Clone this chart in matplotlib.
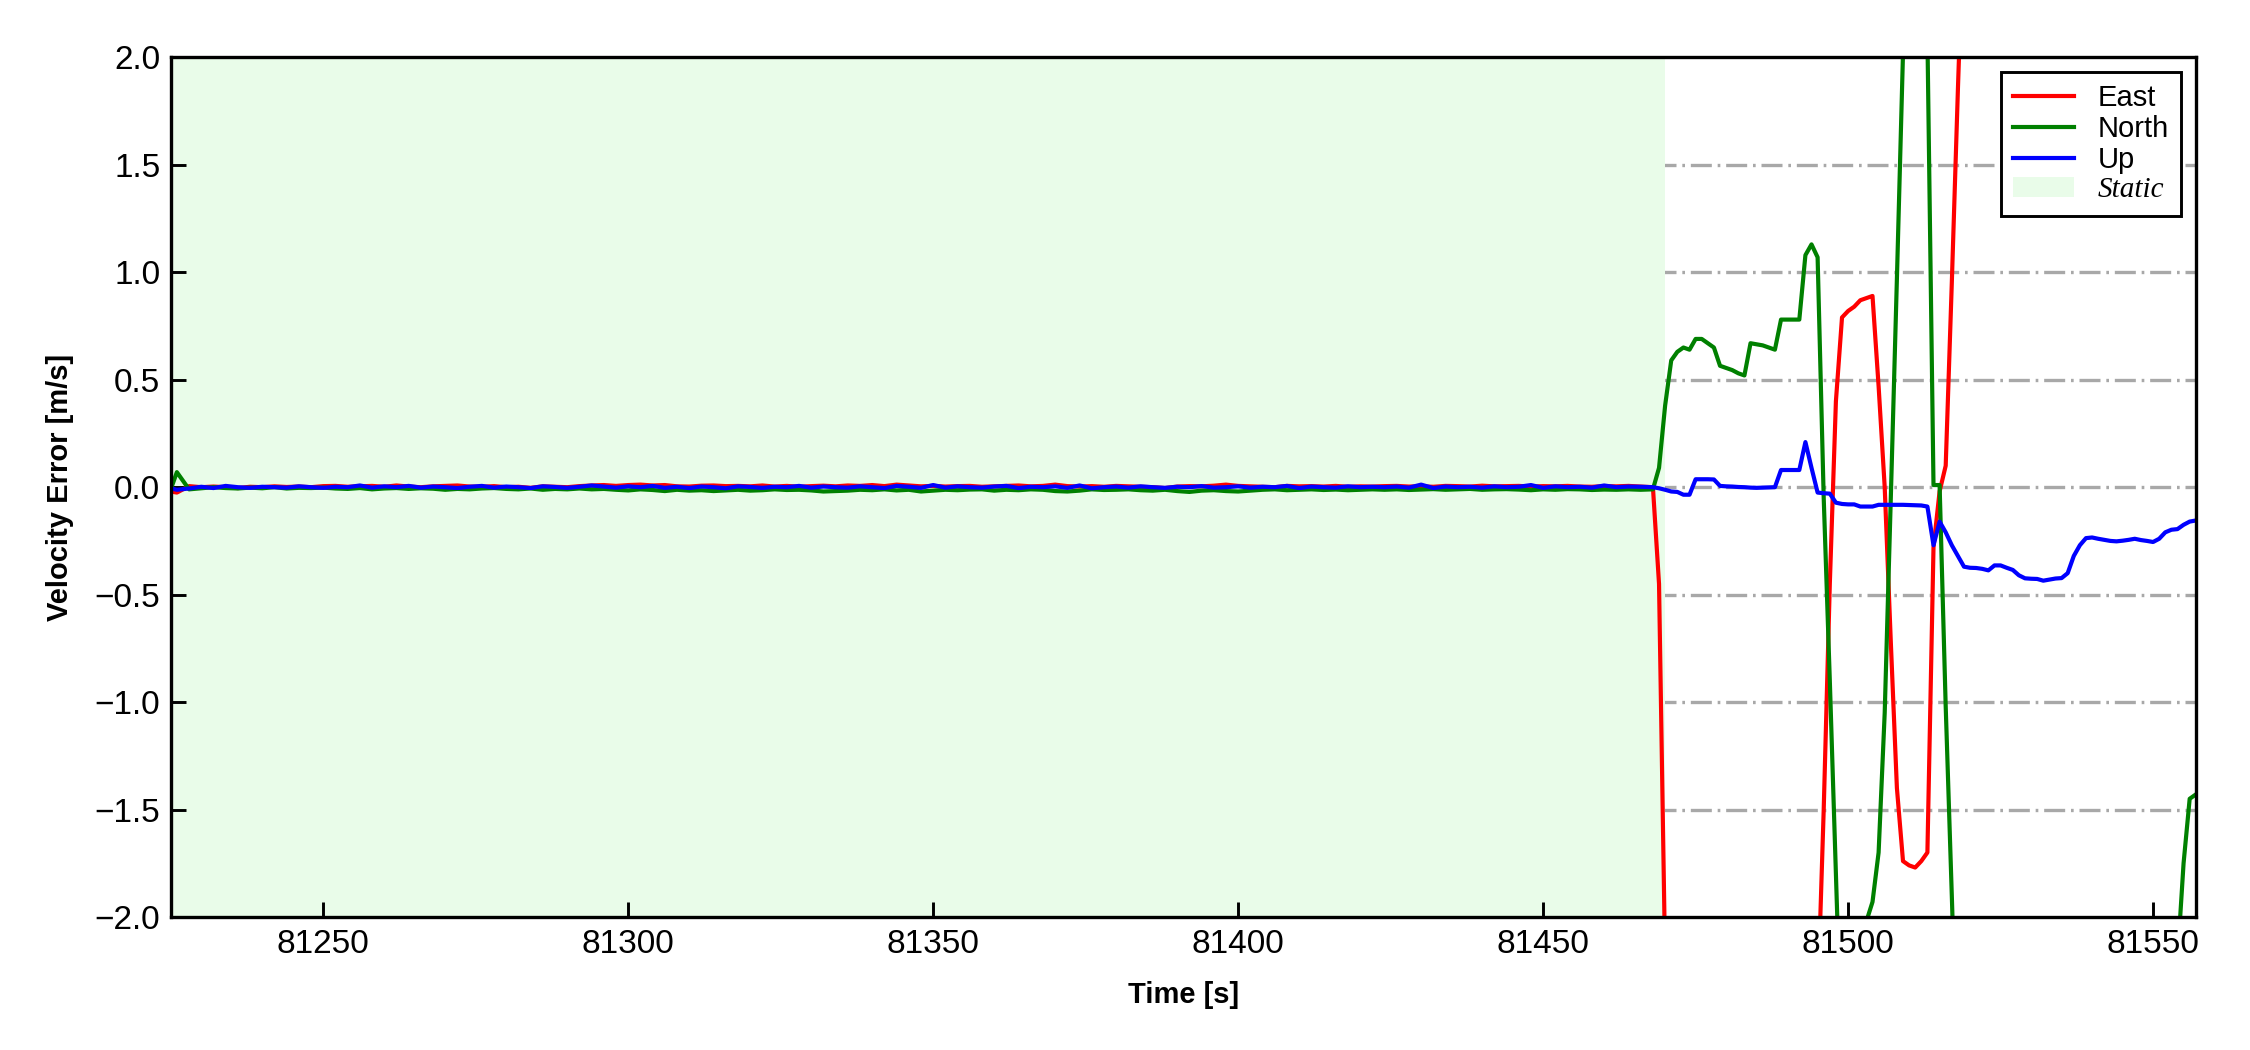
import numpy as np
import matplotlib
matplotlib.use("Agg")
import matplotlib.pyplot as plt
from matplotlib.patches import Patch
from matplotlib.lines import Line2D

plt.rcParams['font.family'] = ['Liberation Sans', 'DejaVu Sans']

# ---------------- data ----------------
static_start = 81225
static_end = 81470

# static period: first sample at 81225, then every 2 s from 81226 to 81466
east_static = [-0.02,
    -0.025, 0.005, 0.0, 0.003, 0.0, -0.004, 0.002, 0.0, 0.004, 0.001, 0.003,
    0.0, 0.005, 0.006, 0.002, 0.004, 0.006, 0.002, 0.008, 0.003, 0.0, 0.004,
    0.006, 0.008, 0.003, 0.002, 0.005, 0.0, 0.002, -0.003, 0.004, 0.002, 0.0,
    0.005, 0.008, 0.01, 0.006, 0.01, 0.012, 0.008, 0.01, 0.004, 0.003, 0.007,
    0.008, 0.005, 0.006, 0.004, 0.008, 0.003, 0.006, 0.002, 0.005, 0.007, 0.004,
    0.008, 0.006, 0.01, 0.005, 0.012, 0.008, 0.004, 0.006, 0.003, 0.005, 0.006,
    0.002, 0.004, 0.006, 0.008, 0.004, 0.006, 0.012, 0.005, 0.003, 0.005, 0.002,
    0.006, 0.004, 0.002, 0.0, -0.004, 0.003, 0.005, 0.004, 0.007, 0.012, 0.006,
    0.004, 0.002, 0.0, 0.006, 0.004, 0.005, 0.003, 0.006, 0.002, 0.004, 0.003,
    0.005, 0.006, 0.003, 0.004, 0.002, 0.006, 0.005, 0.003, 0.007, 0.004, 0.005,
    0.006, 0.003, 0.005, 0.004, 0.006, 0.003, 0.002, 0.005, 0.004, 0.006, 0.003]

north_static = [-0.01,
    0.07, -0.01, -0.005, 0.0, -0.004, -0.006, -0.002, -0.005, 0.0, -0.006, -0.003,
    -0.004, -0.002, -0.006, -0.008, -0.004, -0.01, -0.006, -0.004, -0.008, -0.005, -0.007,
    -0.012, -0.008, -0.01, -0.006, -0.004, -0.008, -0.01, -0.006, -0.012, -0.008, -0.01,
    -0.006, -0.01, -0.008, -0.012, -0.015, -0.01, -0.013, -0.018, -0.012, -0.016, -0.014,
    -0.018, -0.015, -0.012, -0.016, -0.014, -0.01, -0.013, -0.012, -0.015, -0.02, -0.018,
    -0.016, -0.012, -0.014, -0.01, -0.015, -0.012, -0.02, -0.016, -0.012, -0.014, -0.011,
    -0.01, -0.016, -0.012, -0.014, -0.01, -0.012, -0.018, -0.02, -0.016, -0.01, -0.013,
    -0.012, -0.01, -0.014, -0.016, -0.012, -0.018, -0.022, -0.016, -0.014, -0.018, -0.02,
    -0.016, -0.012, -0.01, -0.014, -0.012, -0.01, -0.013, -0.011, -0.014, -0.012, -0.01,
    -0.012, -0.01, -0.013, -0.011, -0.009, -0.012, -0.01, -0.008, -0.012, -0.01, -0.009,
    -0.011, -0.014, -0.01, -0.012, -0.009, -0.01, -0.013, -0.011, -0.012, -0.01, -0.012]

up_static = [-0.005,
    -0.012, -0.006, 0.002, -0.004, 0.006, 0.0, -0.003, 0.002, 0.0, -0.002, 0.004,
    0.0, -0.003, 0.002, 0.0, 0.008, -0.002, 0.004, 0.0, 0.006, -0.002, 0.003,
    0.0, -0.004, 0.002, 0.006, -0.002, 0.003, 0.0, -0.004, 0.004, 0.001, -0.003,
    0.002, 0.008, 0.003, -0.002, 0.004, 0.0, 0.006, -0.003, 0.002, -0.004, 0.003,
    0.0, -0.005, 0.004, 0.001, -0.003, 0.002, 0.0, 0.006, -0.002, 0.003, 0.0,
    -0.002, 0.004, 0.0, -0.004, 0.006, 0.002, -0.003, 0.01, -0.002, 0.004, 0.0,
    -0.002, 0.003, 0.006, -0.004, 0.002, 0.0, 0.004, -0.003, 0.008, -0.005, 0.0,
    0.003, -0.002, 0.004, 0.0, -0.003, 0.002, 0.0, 0.005, -0.002, 0.0, 0.004,
    -0.002, 0.002, 0.0, 0.006, -0.004, 0.003, 0.0, -0.002, 0.004, 0.0, 0.002,
    0.0, 0.003, -0.002, 0.012, -0.004, 0.003, 0.0, 0.002, -0.002, 0.004, 0.0,
    0.002, 0.01, -0.003, 0.004, 0.0, 0.002, -0.002, 0.008, 0.0, 0.003, 0.002]

# dynamic period: every 1 s from 81468 to 81557
east_dynamic = [
    0.00, -0.45, -2.2, -3.0, -3.4, -3.6, -3.7, -3.8, -3.8, -3.7,
    -3.6, -3.5, -3.5, -3.4, -3.3, -3.3, -3.2, -3.2, -3.1, -3.1,
    -3.0, -3.0, -2.9, -2.9, -2.8, -2.8, -2.7, -2.4, -1.5, -0.45,
    0.40, 0.79, 0.82, 0.84, 0.87, 0.88, 0.89, 0.47, 0.0, -0.72,
    -1.40, -1.74, -1.76, -1.77, -1.74, -1.70, -0.28, -0.02, 0.10, 0.95,
    1.85, 2.7, 3.3, 3.6, 3.8, 3.9, 4.0, 4.0, 4.0, 4.0,
    4.0, 4.0, 4.0, 4.0, 4.0, 4.0, 4.0, 4.0, 4.0, 4.0,
    4.0, 4.0, 4.0, 4.0, 4.0, 4.0, 4.0, 4.0, 4.0, 4.0,
    4.0, 4.0, 4.0, 4.0, 4.0, 4.0, 4.0, 4.0, 4.0, 4.0]

north_dynamic = [
    -0.01, 0.09, 0.38, 0.59, 0.63, 0.65, 0.64, 0.69, 0.69, 0.67,
    0.65, 0.565, 0.555, 0.545, 0.53, 0.52, 0.67, 0.665, 0.66, 0.65,
    0.64, 0.78, 0.78, 0.78, 0.78, 1.08, 1.13, 1.07, -0.05, -0.90,
    -1.80, -2.7, -3.2, -3.0, -2.5, -2.02, -1.93, -1.70, -1.05, -0.05,
    0.97, 2.02, 2.5, 2.7, 2.6, 2.1, 0.01, 0.01, -1.02, -1.9,
    -2.8, -3.3, -3.5, -3.5, -3.5, -3.5, -3.5, -3.5, -3.5, -3.5,
    -3.5, -3.5, -3.5, -3.5, -3.5, -3.5, -3.5, -3.5, -3.5, -3.5,
    -3.5, -3.5, -3.5, -3.5, -3.5, -3.5, -3.5, -3.5, -3.5, -3.5,
    -3.5, -3.4, -3.3, -3.1, -3.0, -2.8, -2.2, -1.75, -1.45, -1.43]

up_dynamic = [
    0.0, -0.005, -0.012, -0.02, -0.022, -0.035, -0.035, 0.037, 0.037, 0.037,
    0.036, 0.006, 0.004, 0.003, 0.001, 0.0, -0.002, -0.003, -0.002, -0.001,
    0.0, 0.08, 0.08, 0.08, 0.08, 0.21, 0.09, -0.025, -0.028, -0.03,
    -0.072, -0.078, -0.08, -0.08, -0.09, -0.09, -0.09, -0.082, -0.082, -0.082,
    -0.082, -0.082, -0.083, -0.084, -0.085, -0.09, -0.27, -0.16, -0.21, -0.27,
    -0.32, -0.37, -0.375, -0.376, -0.38, -0.387, -0.364, -0.364, -0.375, -0.385,
    -0.41, -0.424, -0.426, -0.427, -0.435, -0.43, -0.425, -0.423, -0.40, -0.32,
    -0.27, -0.237, -0.234, -0.24, -0.245, -0.25, -0.252, -0.249, -0.245, -0.24,
    -0.246, -0.25, -0.255, -0.24, -0.21, -0.198, -0.195, -0.175, -0.16, -0.155]

t_static = np.concatenate([[81225], np.arange(81226, 81467, 2)])
t_dynamic = np.arange(81468, 81468 + len(east_dynamic))
time = np.concatenate([t_static, t_dynamic]).astype(float)

east = np.array(east_static + east_dynamic)
north = np.array(north_static + north_dynamic)
up = np.array(up_static + up_dynamic)

series_labels = ["East", "North", "Up"]
series_colors = ["#ff0000", "#008000", "#0000ff"]
yticks = [-2.0, -1.5, -1.0, -0.5, 0.0, 0.5, 1.0, 1.5, 2.0]
xticks = [81250, 81300, 81350, 81400, 81450, 81500, 81550]

static_color = (0.914, 0.988, 0.914)
grid_style = dict(color="#a8a8a8", lw=0.8, linestyle=(0, (6.3, 1.75, 0.8, 1.75)))

# ---------------- figure ----------------
fig = plt.figure(figsize=(7.5, 3.5), dpi=300)
ax = fig.add_axes([0.0759, 0.1267, 0.9, 0.8186])
ax.set_axisbelow(False)

# horizontal grid drawn beneath the static shading
for yv in yticks[1:-1]:
    ax.axhline(yv, zorder=0.5, **grid_style)

ax.axvspan(static_start, static_end, color=static_color, lw=0, zorder=1)

for y, lab, col in zip([east, north, up], series_labels, series_colors):
    n = min(len(time), len(y))
    ax.plot(time[:n], y[:n], color=col, lw=1.0, label=lab, zorder=3)

ax.set_xlim(81225, 81557)
ax.set_ylim(-2.0, 2.0)
ax.set_yticks(yticks)
ax.set_xticks(xticks)
ax.set_yticklabels([f"{v:.1f}".replace("-", "\u2212") for v in yticks])

ax.tick_params(axis="both", direction="in", length=3.5, width=0.7,
               top=False, right=False)
ax.tick_params(axis="x", labelsize=8, pad=3.0)
ax.tick_params(axis="y", labelsize=8, pad=2.5)
for sp in ax.spines.values():
    sp.set_linewidth(0.8)
    sp.set_zorder(5)

ax.set_xlabel("Time [s]", fontsize=7, fontweight="bold", labelpad=5)
ax.set_ylabel("Velocity Error [m/s]", fontsize=7, fontweight="bold", labelpad=5)

handles = [Line2D([0], [0], color=c, lw=1.0) for c in series_colors]
handles.append(Patch(facecolor=static_color, edgecolor="none"))
leg = ax.legend(handles, series_labels + ["Static"], loc="upper right",
                fontsize=7, frameon=True, fancybox=False, framealpha=1,
                edgecolor="black", labelspacing=0.1, handlelength=2.1,
                handletextpad=0.8, borderpad=0.42)
leg.get_frame().set_linewidth(0.7)
leg.set_zorder(10)
st = leg.get_texts()[3]
st.set_fontfamily(["Liberation Serif", "DejaVu Serif"])
st.set_fontstyle("italic")

fig.savefig("out.png", dpi=300)
